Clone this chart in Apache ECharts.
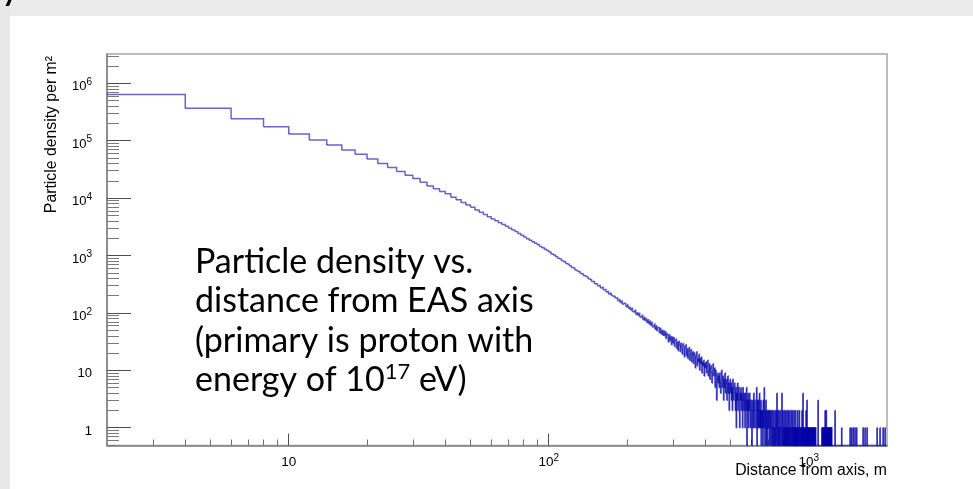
<!DOCTYPE html>
<html><head><meta charset="utf-8">
<script src="https://cdn.jsdelivr.net/npm/echarts@6/dist/echarts.min.js"></script>
<style>html,body{margin:0;padding:0;background:#ffffff;}#chart{width:973px;height:489px;}</style>
</head><body><div id="chart"></div>
<script>
// ---------------- data ----------------
const binWidth = 2; // m, histogram bin width
// bins 2–100 m
const densityNear = [640000,366000,242000,175000,131000,103000,84000,69000,58000,48000,
  40000,34000,29000,25000,22000,18800,16200,14500,13100,11900,
  10400,9400,8400,7600,6900,6200,5670,5170,4740,4330,
  4040,3720,3460,3250,2990,2790,2610,2420,2250,2110,
  1950,1850,1730,1630,1550,1430,1360,1290,1220];
// bins 100–400 m
const densityMid = [1150,1062,1018,962,897,871,806,781,724,705,
  662,619,603,561,538,522,487,478,446,437,
  418,389,382,352,354,322,321,298,301,271,
  279,252,255,232,236,212,221,201,195,194,
  181,184,163,171,152,161,142,147,144,128,
  137,121,126,112,121,105,104,111,94,101,
  91,99,84,86,91,76,84,74,80,68,
  76,65,72,61,69,57,58,64,52,60,
  49,56,55,45,54,43,50,41,49,40,
  47,36,44,41,31,42,33,39,28,38,
  30,37,26,33,35,24,31,22,32,27,
  21,30,24,19,29,26,17,25,28,18,
  24,16,22,25,15,20,23,14,19,21,
  13,20,18,11,17,21,12,16,14,19,
  10,16,13,17,9,14,12,15,8,13];
// bins 400–1250 m
const densityTail = [
  11,14,9,12,15,8,10,13,7,11,12,9,6,10,13,8,9,11,5,10,8,3,7,9,6,
  8,5,9,6,4,7,10,5,6,8,3,7,5,9,4,6,7,3,5,8,4,6,2,5,7,
  4,6,3,5,2,7,4,3,5,6,4,2,5,1,4,3,6,2,4,5,3,1,4,3,5,
  2,4,3,1,5,3,2,4,3,1,4,2,3,5,0,3,2,4,1,3,2,4,3,1,2,
  3,1,0,2,3,1,2,4,1,2,3,2,1,1,2,5,0,3,2,1,3,1,2,4,1,
  2,1,3,0,2,1,1,2,0,3,1,2,5,1,0,2,1,3,0,1,2,0,1,2,1,
  1,2,0,1,2,1,0,2,1,1,0,2,1,0,1,2,0,1,1,0,2,1,0,1,2,
  0,1,4,1,0,2,1,0,1,2,0,1,0,1,2,1,0,0,1,4,0,1,2,0,1,
  1,0,2,1,0,1,0,2,0,1,1,0,2,0,1,0,1,2,0,1,0,0,2,1,0,
  1,0,1,2,0,0,1,0,2,1,0,1,0,0,2,0,1,0,1,0,2,0,1,0,1,
  0,1,0,2,1,0,0,1,0,1,2,0,1,0,0,1,0,1,1,0,0,2,0,1,0,
  4,0,1,0,1,0,0,1,0,0,1,0,1,2,0,1,0,3,0,1,0,0,1,0,1,
  0,1,0,0,1,0,1,0,0,1,0,1,1,0,0,1,0,0,1,0,1,0,0,1,0,
  1,0,0,1,0,0,1,0,0,0,0,0,0,0,0,0,0,0,3,0,0,0,0,0,0,
  0,0,0,0,0,0,0,0,0,0,0,0,1,0,1,1,0,1,0,1,1,0,1,0,1,
  1,0,1,2,1,0,1,1,0,2,0,1,0,1,1,0,1,0,1,1,0,0,1,0,1,
  1,0,1,1,0,1,0,1,1,0,1,0,1,0,0,0,0,0,0,0,0,0,0,0,0];
// 1250–2000 m: only the non-empty bins (left edge, m) and their density
const sparseBinStart = [1262,1338,1442,1462,1484,1506,1528,1618,1646,1676,1832,1880,1932,1966];
const sparseValue    = [2,1,1,1,1,1,1,1,1,1,1,1,1,1];

const xRange = [2, 2000];
const yRange = [0.49, 3.24e6];
const xLabelValues = [10, 100, 1000];
const xLabelTexts  = ['10', '10^2', '10^3'];
const xMinorTicks  = [3,4,5,6,7,8,9,20,30,40,50,60,70,80,90,200,300,400,500,600,700,800,900];
const yLabelValues = [1, 10, 100, 1000, 10000, 100000, 1000000];
const yLabelTexts  = ['1', '10', '10^2', '10^3', '10^4', '10^5', '10^6'];
const yMinorTicks  = [0.5,0.6,0.7,0.8,0.9, 2,3,4,5,6,7,8,9, 20,30,40,50,60,70,80,90,
  200,300,400,500,600,700,800,900, 2000,3000,4000,5000,6000,7000,8000,9000,
  20000,30000,40000,50000,60000,70000,80000,90000,
  200000,300000,400000,500000,600000,700000,800000,900000, 2000000,3000000];

// ---------------- build histogram bins ----------------
const edges = [], values = [];
function addBins(start, arr) { arr.forEach(function (v, i) { edges.push(start + i * binWidth); values.push(v); }); }
addBins(2, densityNear);
addBins(100, densityMid);
addBins(400, densityTail);
for (let e = 1250; e < xRange[1]; e += binWidth) {
  const k = sparseBinStart.indexOf(e);
  edges.push(e); values.push(k >= 0 ? sparseValue[k] : 0);
}
const floorV = function (v) { return v > 0 ? v : yRange[0]; }; // empty bins drawn at the frame bottom
const histData = edges.map(function (e, i) {
  const v = floorV(values[i]);
  const vn = i + 1 < values.length ? floorV(values[i + 1]) : v;
  return [e, e + binWidth, v, vn];
});

const FONT = '"Liberation Sans", Arial, sans-serif';
function richLabel(v, vals, texts) {
  let idx = 0, best = 1e9;
  vals.forEach(function (u, i) { const d = Math.abs(Math.log10(u) - Math.log10(v)); if (d < best) { best = d; idx = i; } });
  const t = texts[idx];
  if (t.indexOf('^') >= 0) { const p = t.split('^'); return '{b|' + p[0] + '}{s|' + p[1] + '}'; }
  return '{b|' + t + '}';
}
function richStyle(fs) {
  return {
    b: { fontSize: fs, fontFamily: FONT, color: '#000', lineHeight: 16, verticalAlign: 'bottom' },
    s: { fontSize: Math.round(fs * 0.75), fontFamily: FONT, color: '#000', lineHeight: 5, verticalAlign: 'top' }
  };
}

const chart = echarts.init(document.getElementById('chart'), null, { renderer: 'canvas' });
chart.setOption({
  backgroundColor: '#ffffff',
  animation: false,
  grid: { left: 107, right: 86, top: 54, bottom: 43.5, show: true, borderColor: '#a8a8a8', borderWidth: 1.5, backgroundColor: 'transparent' },
  xAxis: [
    { type: 'log', min: xRange[0], max: xRange[1], position: 'bottom',
      axisLine: { show: true, onZero: false, lineStyle: { color: '#808080', width: 1.5 } },
      axisTick: { show: true, inside: true, length: 12, customValues: xLabelValues, lineStyle: { color: '#4d4d4d', width: 1 } },
      axisLabel: { show: true, customValues: xLabelValues, margin: 8, formatter: function (v) { return richLabel(v, xLabelValues, xLabelTexts); }, rich: richStyle(13.5) },
      splitLine: { show: false }, minorTick: { show: false } },
    { type: 'log', min: xRange[0], max: xRange[1], position: 'bottom',
      axisLine: { show: false },
      axisTick: { show: true, inside: true, length: 6, customValues: xMinorTicks, lineStyle: { color: '#6e6e6e', width: 1 } },
      axisLabel: { show: false }, splitLine: { show: false } }
  ],
  yAxis: [
    { type: 'log', min: yRange[0], max: yRange[1], position: 'left',
      axisLine: { show: true, onZero: false, lineStyle: { color: '#808080', width: 1.5 } },
      axisTick: { show: true, inside: true, length: 24, customValues: yLabelValues, lineStyle: { color: '#4d4d4d', width: 1 } },
      axisLabel: { show: true, customValues: yLabelValues, margin: 15, padding: [4, 0, 0, 0], formatter: function (v) { return richLabel(v, yLabelValues, yLabelTexts); }, rich: richStyle(13) },
      splitLine: { show: false } },
    { type: 'log', min: yRange[0], max: yRange[1], position: 'left',
      axisLine: { show: false },
      axisTick: { show: true, inside: true, length: 12, customValues: yMinorTicks, lineStyle: { color: '#7a7a7a', width: 1 } },
      axisLabel: { show: false }, splitLine: { show: false } }
  ],
  graphic: [
    { type: 'rect', shape: { x: 0, y: 0, width: 973, height: 16 }, style: { fill: '#ebebeb' }, silent: true },
    { type: 'rect', shape: { x: 0, y: 0, width: 10, height: 489 }, style: { fill: '#e8e8e8' }, silent: true },
    { type: 'text', x: 2, y: 6, style: { text: 'y', fontFamily: 'Lato', fontWeight: 'bold', fontSize: 30, fill: '#000', align: 'left', verticalAlign: 'bottom' } },
    { type: 'text', x: 52, y: 56, rotation: Math.PI / 2,
      style: { text: 'Particle density per m²', fontFamily: FONT, fontSize: 15.8, fill: '#000', align: 'right', verticalAlign: 'middle' } },
    { type: 'text', x: 887, y: 471,
      style: { text: 'Distance from axis, m', fontFamily: FONT, fontSize: 15.8, fill: '#000', align: 'right', verticalAlign: 'middle' } },
    { type: 'text', x: 195, y: 242,
      style: { text: 'Particle density vs.\ndistance from EAS axis\n(primary is proton with\nenergy of 10{s|17} eV)',
        fontFamily: 'Lato', fontSize: 34, lineHeight: 39.5, fill: '#000', align: 'left', verticalAlign: 'top',
        rich: { s: { fontFamily: 'Lato', fontSize: 22, lineHeight: 24, verticalAlign: 'top', fill: '#000' } } } }
  ],
  series: [{
    type: 'custom', xAxisIndex: 0, yAxisIndex: 0, silent: true, z: 10,
    dimensions: ['x0', 'x1', 'v', 'vNext'],
    encode: { x: [0, 1], y: [2, 3] },
    data: histData,
    renderItem: function (params, api) {
      const p0 = api.coord([api.value(0), api.value(2)]);
      const p1 = api.coord([api.value(1), api.value(2)]);
      const p2 = api.coord([api.value(1), api.value(3)]);
      return { type: 'polyline', shape: { points: [p0, p1, p2] },
        style: { stroke: '#0000a8', lineWidth: 1.5, fill: null, opacity: 0.6 } };
    }
  }]
});
</script></body></html>
